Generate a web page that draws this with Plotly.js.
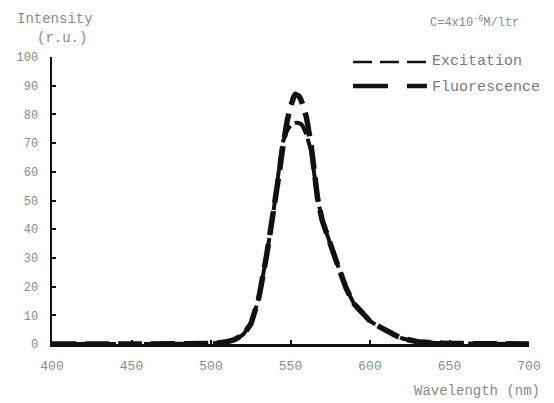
<!DOCTYPE html>
<html>
<head>
<meta charset="utf-8">
<script src="https://cdn.plot.ly/plotly-3.0.1.min.js"></script>
<style>html,body{margin:0;padding:0;background:#fff;}#chart{width:554px;height:403px;}</style>
</head>
<body>
<div id="chart"></div>
<script>
// Wavelength (nm)
const wavelength = [400, 450, 500, 505, 510, 515, 520, 525, 530, 535, 540, 543, 545, 548, 550, 552, 553, 555, 557, 560, 563, 565, 567, 570, 575, 580, 585, 590, 595, 600, 605, 610, 615, 620, 630, 640, 650, 700];
// Intensity (r.u.)
const excitation = [0, 0, 0.2, 0.4, 0.8, 1.6, 3.2, 7, 16, 31, 49, 62, 70, 74.5, 76, 76.8, 77, 77, 76.5, 73, 67, 59, 51, 43, 35, 27, 19.5, 14, 11, 8, 6.3, 4.8, 3.3, 2, 0.8, 0.4, 0.2, 0];
const fluorescence = [0, 0, 0.2, 0.4, 0.8, 1.6, 3.2, 7, 16, 31, 49, 60, 68, 78, 82.5, 86, 87, 86.5, 84.5, 79, 69, 60, 51, 43, 35, 27, 19.5, 14, 11, 8, 6.3, 4.8, 3.3, 2, 0.8, 0.4, 0.2, 0];
const xTicks = [400, 450, 500, 550, 600, 650, 700];
const yTicks = [0, 10, 20, 30, 40, 50, 60, 70, 80, 90, 100];

const mono = "Liberation Mono, DejaVu Sans Mono, monospace";
const gray = "#8a8a8a";

const traces = [
  {x: wavelength, y: excitation, name: "Excitation", mode: "lines", line: {color: "#111", width: 4, dash: "18px,5px", shape: "spline", smoothing: 0.3}},
  {x: wavelength, y: fluorescence, name: "Fluorescence", mode: "lines", line: {color: "#111", width: 5.5, dash: "24px,9px", shape: "spline", smoothing: 0.3}}
];

const layout = {
  width: 554, height: 403,
  margin: {l: 52, r: 25, t: 57, b: 59},
  paper_bgcolor: "#fff", plot_bgcolor: "#fff",
  showlegend: false,
  font: {family: mono, color: gray, size: 13},
  xaxis: {
    range: [400, 700], tickvals: xTicks, ticktext: xTicks.map(String),
    showgrid: false, zeroline: false, showline: true, linecolor: "#111", linewidth: 2.5,
    ticks: "inside", ticklen: 4, tickwidth: 2, tickcolor: "#111",
    tickfont: {family: mono, size: 13, color: gray}, ticklabelstandoff: 8
  },
  yaxis: {
    range: [0, 100], tickvals: yTicks, ticktext: yTicks.map(String),
    showgrid: false, zeroline: false, showline: true, linecolor: "#111", linewidth: 2.5,
    ticks: "inside", ticklen: 4, tickwidth: 2, tickcolor: "#111",
    tickfont: {family: mono, size: 12, color: gray}, ticklabelstandoff: 9
  },
  shapes: [
    {type: "line", xref: "paper", yref: "paper", x0: 0.631, x1: 0.786, y0: 0.9826, y1: 0.9826, line: {color: "#111", width: 2.5, dash: "19px,8px"}},
    {type: "line", xref: "paper", yref: "paper", x0: 0.631, x1: 0.786, y0: 0.899, y1: 0.899, line: {color: "#111", width: 4.5, dash: "35px,19px"}}
  ],
  annotations: [
    {text: "Intensity", xref: "paper", yref: "paper", x: -0.0776, y: 1.1324, xanchor: "left", yanchor: "middle", showarrow: false, font: {family: mono, size: 14, color: gray}},
    {text: "(r.u.)", xref: "paper", yref: "paper", x: -0.0356, y: 1.0662, xanchor: "left", yanchor: "middle", showarrow: false, font: {family: mono, size: 14, color: gray}},
    {text: "C=4x10<sup>-6</sup>M/ltr", xref: "paper", yref: "paper", x: 0.788, y: 1.122, xanchor: "left", yanchor: "middle", showarrow: false, font: {family: mono, size: 12, color: gray}},
    {text: "Excitation", xref: "paper", yref: "paper", x: 0.7925, y: 0.9826, xanchor: "left", yanchor: "middle", showarrow: false, font: {family: mono, size: 15, color: "#7a7a7a"}},
    {text: "Fluorescence", xref: "paper", yref: "paper", x: 0.7925, y: 0.892, xanchor: "left", yanchor: "middle", showarrow: false, font: {family: mono, size: 15, color: "#7a7a7a"}},
    {text: "Wavelength (nm)", xref: "paper", yref: "paper", x: 0.7547, y: -0.1638, xanchor: "left", yanchor: "middle", showarrow: false, font: {family: mono, size: 14, color: gray}}
  ]
};

Plotly.newPlot("chart", traces, layout, {staticPlot: true, displayModeBar: false});
</script>
</body>
</html>
